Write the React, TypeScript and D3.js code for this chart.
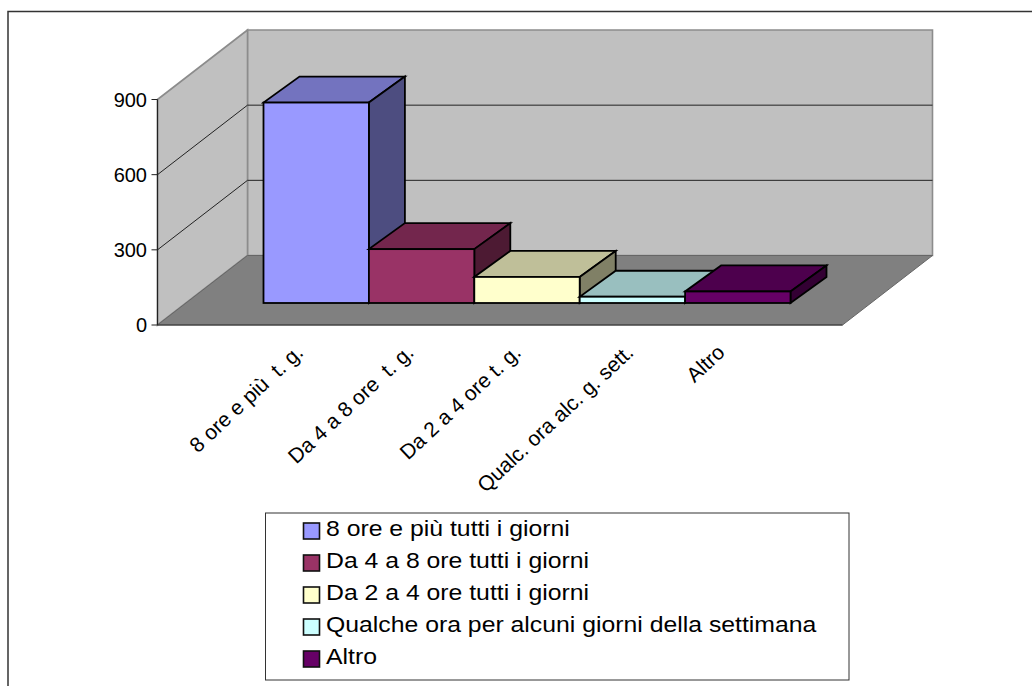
import React from "react";
import * as d3 from "d3";

const categories = ["8 ore e più  t. g.", "Da 4 a 8 ore  t. g.", "Da 2 a 4 ore t. g.", "Qualc. ora alc. g. sett.", "Altro"];
const values = [800, 215, 104, 25, 46];
const legendLabels = ["8 ore e più tutti i giorni", "Da 4 a 8 ore tutti i giorni", "Da 2 a 4 ore tutti i giorni", "Qualche ora per alcuni giorni della settimana", "Altro"];
const colors = ["#9999FF", "#993366", "#FFFFCC", "#CCFFFF", "#660066"];
const yTicks = [0, 300, 600, 900];

const FONT = "'Liberation Sans', Arial, sans-serif";

const front = { x0: 157.5, x1: 842.5, y0: 325 };
const depth = { dx: 90 };
const barDepth = { dx: 36, dy: -26 };
const barBase = 303;
const labelShift = [-22, -17, -15, -8, -22];

const App = () => {
  const y = d3.scaleLinear().domain([0, 900]).range([front.y0, 99.5]);
  const yBack = d3.scaleLinear().domain([0, 900]).range([255.5, 30]);
  const x = d3.scaleBand<string>().domain(categories).range([263.5, 790.5]).padding(0);
  const poly = (pts: [number, number][]) => (d3.line()(pts) ?? "") + "Z";
  const hOf = (v: number) => y(0) - y(v);
  const bx = front.x0 + depth.dx;
  const rx = front.x1 + depth.dx;

  return (
    <svg width={1032} height={686} style={{ position: "absolute", left: 0, top: 0, background: "#fff" }}>
      <path d="M8,686V11.5H1032" fill="none" stroke="#333" strokeWidth={1.5} />

      {/* walls */}
      <path d={poly([[bx, yBack(0)], [rx, yBack(0)], [rx, yBack(900)], [bx, yBack(900)]])} fill="#C0C0C0" stroke="#8C8C8C" strokeWidth={1.6} />
      <path d={poly([[front.x0, y(0)], [bx, yBack(0)], [bx, yBack(900)], [front.x0, y(900)]])} fill="#C0C0C0" stroke="#8C8C8C" strokeWidth={1.6} />
      <path d={poly([[front.x0, y(0)], [bx, yBack(0)], [rx, yBack(0)], [front.x1, y(0)]])} fill="#808080" stroke="#666" strokeWidth={1} />

      {/* gridlines */}
      {yTicks.filter((t) => t > 0 && t < 900).map((t) => (
        <path key={t} d={`M${front.x0},${y(t)}L${bx},${yBack(t)}L${rx},${yBack(t)}`} fill="none" stroke="#222" strokeWidth={1} />
      ))}

      {/* axis */}
      <line x1={front.x0} x2={front.x0} y1={y(900)} y2={y(0)} stroke="#222" strokeWidth={1.2} />
      <line x1={front.x0} x2={front.x1} y1={y(0)} y2={y(0)} stroke="#333" strokeWidth={1.2} />
      {yTicks.map((t) => (
        <g key={t}>
          <line x1={front.x0 - 6} x2={front.x0} y1={y(t)} y2={y(t)} stroke="#222" strokeWidth={1} />
          <text x={147} y={y(t) + 7} textAnchor="end" fontFamily={FONT} fontSize={20} fill="#000">{t}</text>
        </g>
      ))}

      {/* bars */}
      {categories.map((c, i) => {
        const l = x(c)!;
        const r = l + x.bandwidth();
        const t = barBase - hOf(values[i]);
        const { dx, dy } = barDepth;
        const col = d3.rgb(colors[i]);
        const topCol = d3.rgb(col.r * 0.75, col.g * 0.75, col.b * 0.75).formatHex();
        const sideCol = d3.rgb(col.r * 0.5, col.g * 0.5, col.b * 0.5).formatHex();
        return (
          <g key={c} stroke="#000" strokeWidth={1.8} strokeLinejoin="miter">
            <path d={poly([[l, t], [r, t], [r + dx, t + dy], [l + dx, t + dy]])} fill={topCol} />
            <path d={poly([[r, t], [r + dx, t + dy], [r + dx, barBase + dy], [r, barBase]])} fill={sideCol} />
            <rect x={l} y={t} width={r - l} height={barBase - t} fill={colors[i]} />
          </g>
        );
      })}

      {/* category labels */}
      {categories.map((c, i) => {
        const ax = x(c)! + x.bandwidth() / 2 + labelShift[i];
        return (
          <text key={c} transform={`translate(${ax},343) rotate(-43)`} textAnchor="end" dominantBaseline="hanging" fontFamily={FONT} fontSize={21} fill="#000" style={{ whiteSpace: "pre" }}>{c}</text>
        );
      })}

      {/* legend */}
      <rect x={265.5} y={513} width={583.5} height={167} fill="#fff" stroke="#333" strokeWidth={1} />
      {legendLabels.map((l, i) => (
        <g key={l}>
          <rect x={303.5} y={523 + i * 32} width={16} height={16} fill={colors[i]} stroke="#111" strokeWidth={1.6} />
          <text transform={`translate(326,${536 + i * 32}) scale(1.127,1)`} fontFamily={FONT} fontSize={22} fill="#000">{l}</text>
        </g>
      ))}
    </svg>
  );
};

export default App;
